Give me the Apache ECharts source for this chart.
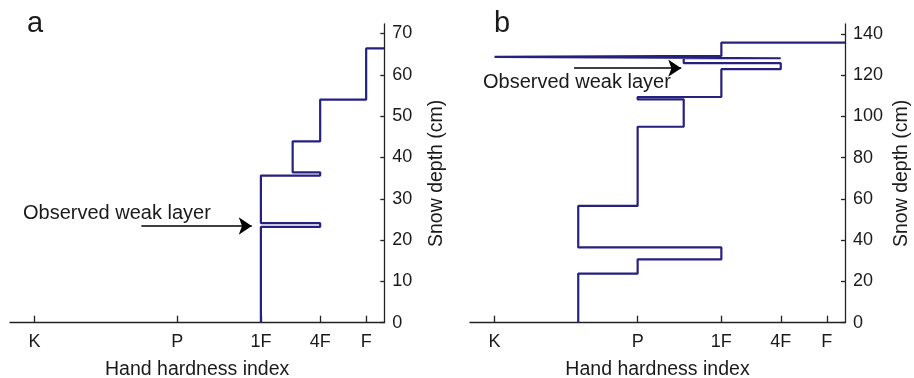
<!DOCTYPE html>
<html>
<head>
<meta charset="utf-8">
<script src="https://cdn.jsdelivr.net/npm/echarts@6/dist/echarts.min.js"></script>
<style>
  html, body { margin: 0; padding: 0; background: #fff; }
  #chart { width: 914px; height: 378px; }
</style>
</head>
<body>
<div id="chart"></div>
<script>
// Hand hardness classes: K = knife, P = pencil, 1F = one finger, 4F = four fingers, F = fist
const hardnessTicks = [1, 2, 3, 4, 5];
const hardnessLabels = ['K', 'P', '1F', '4F', 'F'];

// Profile a: hardness of each layer (bottom to top) and the height of each layer top (cm)
const hardnessA = [3, 4, 3, 4, 3.5, 4, 5];
const layerTopA = [23.2, 24.1, 35.6, 36.4, 43.9, 54.0, 66.4];

// Profile b
const hardnessB = [1.5, 2, 3, 1.5, 2, 2.5, 2, 3, 4, 2.5, 4, 1, 3];
const layerTopB = [23.8, 30.7, 36.5, 56.6, 95.0, 108.3, 109.4, 122.9, 125.8, 128.2, 128.9, 129.3, 135.8];

const depthTicksA = [0, 10, 20, 30, 40, 50, 60, 70];
const depthTicksB = [0, 20, 40, 60, 80, 100, 120, 140];

// Weak-layer arrows: [hardness, depth] at tail and head
const arrowA = [[1.68, 23.4], [2.87, 23.4]];
const arrowB = [[1.47, 123.4], [2.47, 123.4]];

const X_MIN = 0.888, X_MAX = 5.46;

// Turn a layered profile into a stepped outline; the surface runs out to the axis edge.
function stepProfile(hard, tops) {
  const pts = [[hard[0], 0]];
  for (let i = 0; i < hard.length; i++) {
    pts.push([hard[i], tops[i]]);
    const next = i + 1 < hard.length ? hard[i + 1] : X_MAX;
    pts.push([next, tops[i]]);
  }
  return pts;
}

const FONT = '"Liberation Sans", Arial, Helvetica, sans-serif';
const TXT = '#1a1a1a';
const LINE = '#26207f';

function xAxisOf(grid) {
  return {
    type: 'log', logBase: 10, gridIndex: grid, min: X_MIN, max: X_MAX,
    name: 'Hand hardness index', nameLocation: 'middle', nameGap: 37,
    nameTextStyle: { fontFamily: FONT, fontSize: 19.5, color: TXT },
    axisLine: { lineStyle: { color: '#222', width: 1.3 } },
    axisTick: { inside: true, length: 7, customValues: hardnessTicks, lineStyle: { color: '#222', width: 1.3 } },
    axisLabel: {
      customValues: hardnessTicks, margin: 10,
      fontFamily: FONT, fontSize: 18, color: TXT,
      formatter: v => hardnessLabels[Math.round(v) - 1]
    },
    splitLine: { show: false }
  };
}

function yAxisOf(grid, max, ticks, gap) {
  return {
    type: 'value', gridIndex: grid, position: 'right', min: 0, max: max,
    name: 'Snow depth (cm)', nameLocation: 'middle', nameGap: gap,
    nameTextStyle: { fontFamily: FONT, fontSize: 19.5, color: TXT },
    axisLine: { show: true, lineStyle: { color: '#222', width: 1.3 } },
    axisTick: { show: true, inside: true, length: 4, customValues: ticks, lineStyle: { color: '#222', width: 1.3 } },
    axisLabel: { customValues: ticks, margin: 8, fontFamily: FONT, fontSize: 18, color: TXT },
    splitLine: { show: false }
  };
}

function profileSeries(idx, pts) {
  return {
    type: 'line', xAxisIndex: idx, yAxisIndex: idx,
    data: pts, showSymbol: false, silent: true,
    lineStyle: { color: LINE, width: 2.2 }
  };
}

// Annotation arrow drawn as a markLine on an otherwise empty series
function arrowSeries(idx, arrow) {
  return {
    type: 'line', xAxisIndex: idx, yAxisIndex: idx, data: [], silent: true,
    markLine: {
      silent: true, animation: false,
      symbol: ['none', 'arrow'], symbolSize: 13,
      lineStyle: { color: '#000', width: 1.5, type: 'solid' },
      itemStyle: { color: '#000' },
      label: { show: false },
      data: [[{ coord: arrow[0] }, { coord: arrow[1] }]]
    }
  };
}

const chart = echarts.init(document.getElementById('chart'), null, { renderer: 'canvas' });
chart.setOption({
  animation: false,
  backgroundColor: '#fff',
  grid: [
    { left: 10, top: 24, width: 374.3, height: 298.7, outerBoundsMode: 'none', containLabel: false },
    { left: 470, top: 24, width: 375, height: 298.7, outerBoundsMode: 'none', containLabel: false }
  ],
  xAxis: [xAxisOf(0), xAxisOf(1)],
  yAxis: [yAxisOf(0, 72.3, depthTicksA, 42), yAxisOf(1, 144.8, depthTicksB, 47)],
  series: [
    profileSeries(0, stepProfile(hardnessA, layerTopA)),
    profileSeries(1, stepProfile(hardnessB, layerTopB)),
    arrowSeries(0, arrowA),
    arrowSeries(1, arrowB)
  ],
  graphic: [
    { type: 'text', x: 27, y: 38, style: { text: 'a', font: '29px ' + FONT, fill: TXT, textAlign: 'left', textVerticalAlign: 'bottom' } },
    { type: 'text', x: 494, y: 38, style: { text: 'b', font: '29px ' + FONT, fill: TXT, textAlign: 'left', textVerticalAlign: 'bottom' } },
    { type: 'text', x: 23, y: 213, style: { text: 'Observed weak layer', font: '20px ' + FONT, fill: TXT, textAlign: 'left', textVerticalAlign: 'middle' } },
    { type: 'text', x: 483, y: 82, style: { text: 'Observed weak layer', font: '20px ' + FONT, fill: TXT, textAlign: 'left', textVerticalAlign: 'middle' } }
  ]
});
</script>
</body>
</html>
